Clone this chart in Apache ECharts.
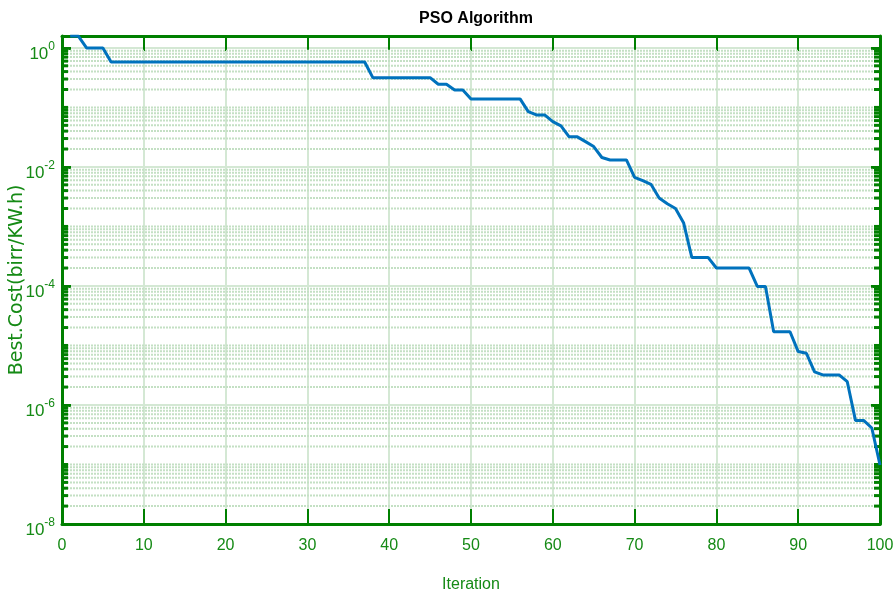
<!DOCTYPE html>
<html>
<head>
<meta charset="utf-8">
<script src="https://cdn.jsdelivr.net/npm/echarts@6/dist/echarts.min.js"></script>
<style>
html,body{margin:0;padding:0;background:#fff;}
#chart{width:896px;height:596px;}
</style>
</head>
<body>
<div id="chart"></div>
<script>
// ---- data ----
const iterations = [];
for (let i = 1; i <= 100; i++) iterations.push(i);
const bestCost = [
  1.58, 1.58, 1.0, 1.0, 1.0, 0.58, 0.58, 0.58, 0.58, 0.58,
  0.58, 0.58, 0.58, 0.58, 0.58, 0.58, 0.58, 0.58, 0.58, 0.58,
  0.58, 0.58, 0.58, 0.58, 0.58, 0.58, 0.58, 0.58, 0.58, 0.58,
  0.58, 0.58, 0.58, 0.58, 0.58, 0.58, 0.58, 0.316, 0.316, 0.316,
  0.316, 0.316, 0.316, 0.316, 0.316, 0.245, 0.245, 0.197, 0.197, 0.139,
  0.139, 0.139, 0.139, 0.139, 0.139, 0.139, 0.085, 0.0748, 0.0748, 0.0578,
  0.049, 0.032, 0.032, 0.0266, 0.022, 0.0144, 0.0131, 0.0131, 0.0131, 0.0067,
  0.0059, 0.0051, 0.0030, 0.0024, 0.0020, 0.00114, 0.0003, 0.0003, 0.0003, 0.0002,
  0.0002, 0.0002, 0.0002, 0.0002, 9.8e-5, 9.8e-5, 1.7e-5, 1.7e-5, 1.7e-5, 7.9e-6,
  7.4e-6, 3.6e-6, 3.2e-6, 3.2e-6, 3.2e-6, 2.46e-6, 5.5e-7, 5.5e-7, 4.1e-7, 9.8e-8
];
const xTicks = [0, 10, 20, 30, 40, 50, 60, 70, 80, 90, 100];
const yMajorExponents = [-8, -6, -4, -2, 0];
const yMinorMultipliers = [1, 2, 3, 4, 5, 6, 7, 8, 9];
const yDecades = [-8, -7, -6, -5, -4, -3, -2, -1, 0];
const titleText = 'PSO Algorithm';
const xName = 'Iteration';
const yName = 'Best.Cost(birr/KW.h)';

// ---- styles ----
// y axis is a base-10 logarithmic axis: values are placed at log10(value)
const Y_MIN_EXP = -8, Y_MAX_EXP = 0.2;
const AX = '#008000';
const LBL = '#158a15';
const GRID = '#d4e8d4';
const MINOR = '#c4e0c4';
const SANS = "'Liberation Sans',Arial,sans-serif";

const lineData = iterations.map((it, i) => [it, Math.log10(bestCost[i])]);
const minorVals = [];
yDecades.forEach(e => {
  yMinorMultipliers.forEach(m => {
    const v = m * Math.pow(10, e);
    if (Math.log10(v) > Y_MAX_EXP) return;
    if (m === 1 && yMajorExponents.indexOf(e) >= 0) return;
    minorVals.push([Math.log10(v)]);
  });
});

const chart = echarts.init(document.getElementById('chart'), null, {renderer: 'canvas'});
const option = {
  animation: false,
  backgroundColor: '#ffffff',
  title: {
    text: titleText,
    left: 471, top: 6, textAlign: 'center',
    textStyle: {fontFamily: SANS, fontWeight: 'bold', fontSize: 16, color: '#000'}
  },
  grid: {left: 62, right: 16, top: 36, bottom: 72, containLabel: false, outerBoundsMode: 'none'},
  xAxis: [{
    type: 'value', min: 0, max: 100, interval: 10, position: 'bottom',
    name: xName, nameLocation: 'middle', nameGap: 53, nameMoveOverlap: false,
    nameTextStyle: {fontFamily: SANS, fontSize: 16, color: LBL},
    axisLine: {show: true, onZero: false, lineStyle: {color: AX, width: 3}},
    axisTick: {show: true, inside: true, length: 15, lineStyle: {color: AX, width: 2}},
    axisLabel: {fontFamily: SANS, fontSize: 16, color: LBL, margin: 14},
    splitLine: {show: true, lineStyle: {color: GRID, width: 2}}
  }, {
    type: 'value', min: 0, max: 100, interval: 10, position: 'top',
    axisLine: {show: true, onZero: false, lineStyle: {color: AX, width: 3}},
    axisTick: {show: true, inside: true, length: 15, lineStyle: {color: AX, width: 2}},
    axisLabel: {show: false},
    splitLine: {show: false}
  }],
  yAxis: [{
    type: 'value', min: Y_MIN_EXP, max: Y_MAX_EXP, interval: 2, position: 'left',
    name: yName, nameLocation: 'middle', nameGap: 35, nameRotate: 90, nameMoveOverlap: false,
    nameTextStyle: {fontFamily: "'DejaVu Sans',sans-serif", fontSize: 19, color: LBL},
    axisLine: {show: true, onZero: false, lineStyle: {color: AX, width: 3}},
    axisTick: {show: true, inside: true, length: 9, lineStyle: {color: AX, width: 3}},
    axisLabel: {
      showMaxLabel: false, margin: 7, padding: [8, 0, 0, 0],
      formatter: function (v) {
        if (yMajorExponents.indexOf(v) < 0) return '';
        return '{b|10}{s|' + v + '}';
      },
      rich: {
        b: {fontFamily: SANS, fontSize: 17, color: LBL, verticalAlign: 'bottom', lineHeight: 22},
        s: {fontFamily: SANS, fontSize: 12, color: LBL, verticalAlign: 'top', lineHeight: 12}
      }
    },
    splitLine: {show: true, lineStyle: {color: GRID, width: 2}}
  }, {
    type: 'value', min: Y_MIN_EXP, max: Y_MAX_EXP, interval: 2, position: 'right',
    axisLine: {show: true, onZero: false, lineStyle: {color: AX, width: 3}},
    axisTick: {show: true, inside: true, length: 9, lineStyle: {color: AX, width: 3}},
    axisLabel: {show: false},
    splitLine: {show: false}
  }],
  series: [{
    type: 'custom',
    xAxisIndex: 0, yAxisIndex: 0,
    silent: true, z: 1,
    encode: {y: 0},
    data: minorVals,
    renderItem: function (params, api) {
      const v = api.value(0);
      const p = api.coord([0, v]);
      const q = api.coord([100, v]);
      return {
        type: 'group',
        children: [{
          type: 'line',
          shape: {x1: p[0] + 2, y1: p[1], x2: q[0] - 2, y2: q[1]},
          style: {stroke: MINOR, lineWidth: 2, lineDash: [2, 1]}
        }, {
          type: 'line',
          shape: {x1: p[0], y1: p[1], x2: p[0] + 6, y2: p[1]},
          style: {stroke: AX, lineWidth: 3}
        }, {
          type: 'line',
          shape: {x1: q[0] - 6, y1: q[1], x2: q[0], y2: q[1]},
          style: {stroke: AX, lineWidth: 3}
        }]
      };
    }
  }, {
    type: 'line',
    xAxisIndex: 0, yAxisIndex: 0,
    data: lineData,
    showSymbol: false,
    symbol: 'none',
    z: 5,
    lineStyle: {color: '#0072BD', width: 3},
    clip: true
  }]
};
chart.setOption(option);
</script>
</body>
</html>
